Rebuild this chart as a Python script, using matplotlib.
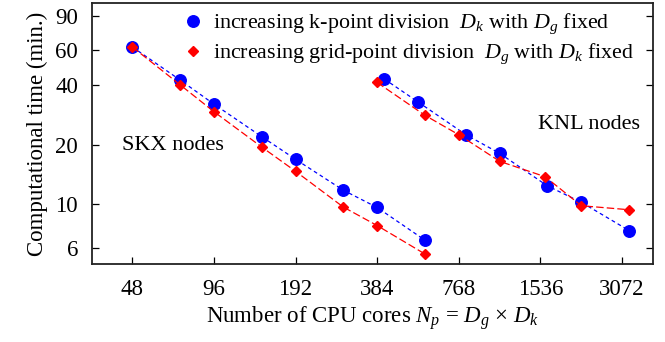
import matplotlib
matplotlib.use("Agg")
import matplotlib.pyplot as plt
from matplotlib.lines import Line2D
from matplotlib.ticker import NullLocator

plt.rcParams['font.family'] = ['Liberation Serif', 'DejaVu Serif']
plt.rcParams['mathtext.fontset'] = 'custom'
plt.rcParams['mathtext.rm'] = 'Liberation Serif'
plt.rcParams['mathtext.it'] = 'Liberation Serif:italic'

# SKX nodes
skx_cores = [48, 72, 96, 144, 192, 288, 384, 576]
skx_k_time = [62.4, 42.5, 32.1, 22.0, 16.9, 11.8, 9.65, 6.6]
skx_g_time = [62.4, 40.2, 29.4, 19.5, 14.7, 9.7, 7.82, 5.62]

# KNL nodes
knl_k_cores = [408, 544, 816, 1088, 1632, 2176, 3264]
knl_k_time = [43.0, 32.9, 22.5, 18.1, 12.4, 10.25, 7.38]
knl_g_cores = [384, 576, 768, 1088, 1600, 2176, 3264]
knl_g_time = [41.3, 28.2, 22.5, 16.5, 13.8, 9.85, 9.4]

xticks = [48, 96, 192, 384, 768, 1536, 3072]
yticks = [6, 10, 20, 40, 60, 90]

fig = plt.figure(figsize=(6.65, 3.42), dpi=100)
ax = fig.add_axes([0.138, 0.228, 0.844, 0.763])

blue_kw = dict(color='blue', linestyle=(0, (3, 2.5)), linewidth=0.9,
               marker='o', markersize=8.3, markerfacecolor='blue', markeredgecolor='blue')
red_kw = dict(color='red', linestyle=(0, (6, 2.5)), linewidth=0.9,
              marker='D', markersize=5.5, markerfacecolor='red', markeredgecolor='red')

ax.plot(skx_cores, skx_k_time, **blue_kw)
ax.plot(skx_cores, skx_g_time, **red_kw)
ax.plot(knl_k_cores, knl_k_time, **blue_kw)
ax.plot(knl_g_cores, knl_g_time, **red_kw)

ax.set_xscale('log', base=2)
ax.set_yscale('log')
ax.set_xlim(34, 4000)
ax.set_ylim(5.0, 104)
ax.set_xticks(xticks)
ax.set_xticklabels([str(t) for t in xticks])
ax.set_yticks(yticks)
ax.set_yticklabels([str(t) for t in yticks])
ax.xaxis.set_minor_locator(NullLocator())
ax.yaxis.set_minor_locator(NullLocator())
ax.tick_params(axis='both', which='major', direction='in', length=5, width=0.9,
               labelsize=16.5, colors='black')
ax.tick_params(axis='x', pad=11)
ax.tick_params(axis='y', pad=10, right=True)
for s in ax.spines.values():
    s.set_linewidth(1.3)
    s.set_color('#222222')

ax.set_xlabel(r'Number of CPU cores $N_p$ = $D_g$ $\times$ $D_k$', fontsize=16.5, labelpad=3)
ax.set_ylabel('Computational time (min.)', fontsize=16.5, labelpad=5)

fig.text(122 / 665, 1 - 146 / 342, 'SKX nodes', fontsize=16, va='center', ha='left')
fig.text(538 / 665, 1 - 125 / 342, 'KNL nodes', fontsize=16, va='center', ha='left')

handles = [Line2D([], [], linestyle='none', marker='o', markersize=8.3, color='blue'),
           Line2D([], [], linestyle='none', marker='D', markersize=5.5, color='red')]
labels = [r'increasing k-point division  $D_k$ with $D_g$ fixed',
          r'increasing grid-point division  $D_g$ with $D_k$ fixed']
ax.legend(handles, labels, loc='upper left', bbox_to_anchor=(180 / 665, 1 - 12 / 342),
          bbox_transform=fig.transFigure, frameon=False, fontsize=15.8,
          handletextpad=0.3, borderaxespad=0.0, borderpad=0.0,
          labelspacing=0.25, handlelength=1.2)

fig.savefig('out.png', dpi=100)
